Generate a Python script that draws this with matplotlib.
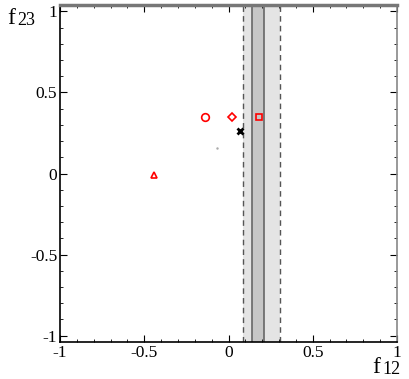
import matplotlib
matplotlib.use("Agg")
import matplotlib.pyplot as plt
from matplotlib.ticker import MultipleLocator

plt.rcParams['font.family'] = ['Liberation Serif', 'DejaVu Serif']

# data
outer_band = [0.086, 0.306]
inner_band = [0.141, 0.213]
circle_pt = (-0.14, 0.35)
diamond_pt = (0.02, 0.35)
square_pt = (0.18, 0.35)
triangle_pt = (-0.44, -0.01)
cross_pt = (0.07, 0.26)
speck_pt = (-0.07, 0.16)
ticks = [-1, -0.5, 0, 0.5, 1]
tick_labels = ['-1', '-0.5', '0', '0.5', '1']

fig = plt.figure(figsize=(4.09, 3.79), dpi=100)
ax = fig.add_axes([60/409, 1-342/379, 337/409, 337/379])
ax.set_xlim(-1, 1)
ax.set_ylim(-1.04, 1.04)

ax.axvspan(outer_band[0], outer_band[1], color='#e4e4e4', lw=0, zorder=1)
ax.axvspan(inner_band[0], inner_band[1], color='#c6c6c6', lw=0, zorder=1)
for xv in outer_band:
    ax.axvline(xv, color='#555555', lw=1.0, ls=(0, (4, 3)), zorder=2)
for xv in inner_band:
    ax.axvline(xv, color='#666666', lw=1.2, zorder=2)

mk = dict(mfc='none', mec='red', mew=1.2, ms=5.5, ls='none', zorder=4)
ax.plot(*circle_pt, marker='o', **mk)
ax.plot(*diamond_pt, marker='D', **{**mk, 'ms': 4.5})
ax.plot(*square_pt, marker='s', **{**mk, 'ms': 4.5})
ax.plot(*triangle_pt, marker='^', **{**mk, 'ms': 5})
ax.plot(*cross_pt, marker='x', color='black', mew=2, ms=5, ls='none', zorder=4)
ax.plot(*speck_pt, marker='.', color='#aaaaaa', ms=1.5, ls='none', zorder=3)

ax.set_xticks(ticks)
ax.set_yticks(ticks)
ax.set_xticklabels(tick_labels)
ax.set_yticklabels(tick_labels)
ax.xaxis.set_minor_locator(MultipleLocator(0.1))
ax.yaxis.set_minor_locator(MultipleLocator(0.1))
ax.tick_params(which='both', direction='in', top=True, right=True, labelsize=12.5, pad=2)
ax.tick_params(which='major', length=5, width=0.8)
ax.tick_params(which='minor', length=2.5, width=0.6)

ax.spines['left'].set_linewidth(1.2)
ax.spines['bottom'].set_linewidth(1.2)
ax.spines['top'].set_color('#777777')
ax.spines['top'].set_linewidth(2.5)
ax.spines['right'].set_color('#888888')
ax.spines['right'].set_linewidth(1.2)

def label(x, y, main, sub):
    fig.text(x/409, 1-y/379, main, fontsize=17, ha='left', va='baseline')
    fig.text((x+10)/409, 1-(y+1)/379, sub, fontsize=13, ha='left', va='baseline')

label(7, 24, 'f', '23')
label(372, 373, 'f', '12')

fig.savefig('out.png', dpi=100)
